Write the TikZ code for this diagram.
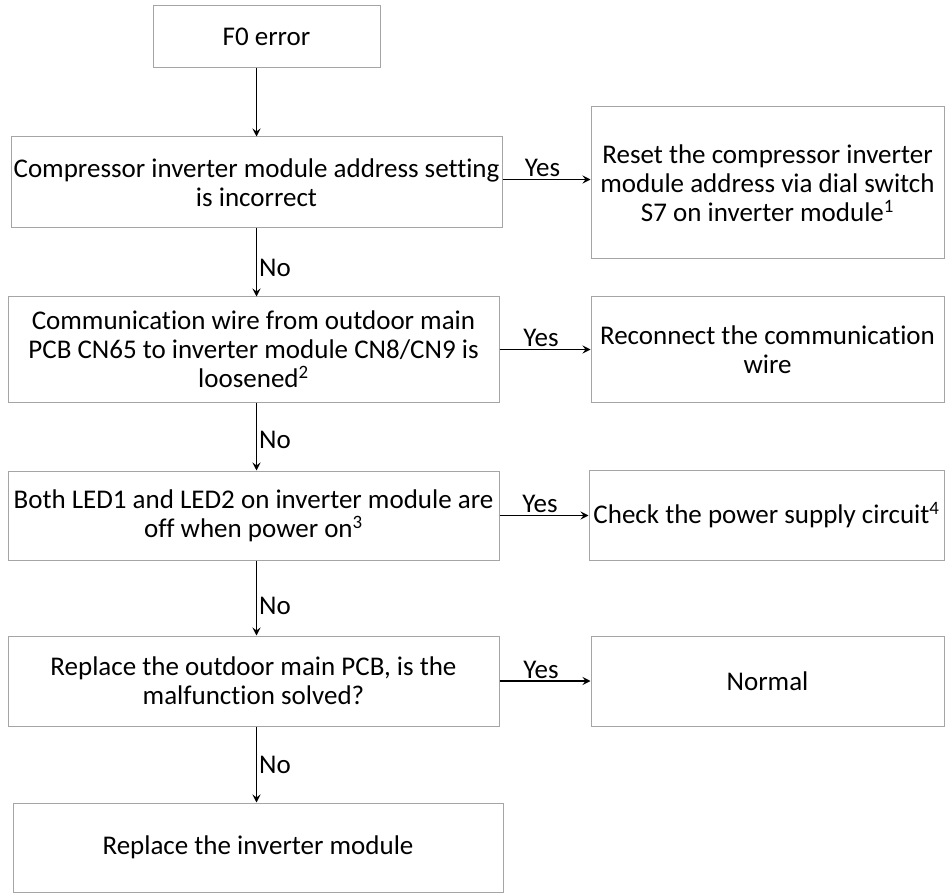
\documentclass[tikz,border=0pt]{standalone}
\usepackage{fontspec}
\setmainfont{Carlito}[Ligatures=NoCommon]
\usetikzlibrary{arrows.meta}
\definecolor{boxgray}{RGB}{165,165,165}
\tikzset{
  stepbox/.style={draw=boxgray, line width=1pt, align=center, inner sep=0pt,
    font=\fontsize{27}{29}\selectfont},
  lab/.style={font=\fontsize{27}{29}\selectfont, inner sep=2pt},
  flow/.style={->, line width=1.2pt},
  >={Stealth[length=8pt,width=8pt,inset=3pt]}
}
\begin{document}
\begin{tikzpicture}[x=1pt,y=-1pt]
\useasboundingbox (0,0) rectangle (945,893);

\node[stepbox, minimum width=227pt, minimum height=62pt] (f0) at (266.5,37) {F0 error};
\node[stepbox, minimum width=491pt, minimum height=91pt] (q1) at (256.5,182.5) {Compressor inverter module address setting\\is incorrect};
\node[stepbox, minimum width=353pt, minimum height=152pt] (a1) at (767.5,183) {Reset the compressor inverter\\module address via dial switch\\S7 on inverter module\textsuperscript{1}};
\node[stepbox, minimum width=491pt, minimum height=105pt] (q2) at (253.5,349.5) {Communication wire from outdoor main\\PCB CN65 to inverter module CN8/CN9 is\\loosened\textsuperscript{2}};
\node[stepbox, minimum width=353pt, minimum height=105pt] (a2) at (767.5,349.5) {Reconnect the communication\\wire};
\node[stepbox, minimum width=491pt, minimum height=89pt] (q3) at (253.5,515.5) {Both LED1 and LED2 on inverter module are\\off when power on\textsuperscript{3}};
\node[stepbox, minimum width=355pt, minimum height=90pt] (a3) at (766.5,515) {Check the power supply circuit\textsuperscript{4}};
\node[stepbox, minimum width=491pt, minimum height=90pt] (q4) at (253.5,681) {Replace the outdoor main PCB, is the\\malfunction solved?};
\node[stepbox, minimum width=353pt, minimum height=90pt] (a4) at (767.5,681) {Normal};
\node[stepbox, minimum width=490pt, minimum height=89pt] (fix) at (258,847.5) {Replace the inverter module};

\draw[flow] (f0.south -| q1.north) -- (q1.north);
\draw[flow] (q1.south) -- (q1.south |- q2.north) node[lab, pos=0.58, right] {No};
\draw[flow] (q1.south |- q2.south) -- (q1.south |- q3.north) node[lab, pos=0.55, right] {No};
\draw[flow] (q1.south |- q3.south) -- (q1.south |- q4.north) node[lab, pos=0.6, right] {No};
\draw[flow] (q1.south |- q4.south) -- (q1.south |- fix.north) node[lab, pos=0.5, right] {No};

\draw[flow] ([yshift=3pt]q1.east) -- ([yshift=3pt]q1.east -| a1.west) node[lab, midway, above, xshift=-4pt] {Yes};
\draw[flow] (q2.east) -- (q2.east -| a2.west) node[lab, midway, above, xshift=-4pt] {Yes};
\draw[flow] (q3.east) -- (q3.east -| a3.west) node[lab, midway, above, xshift=-4pt] {Yes};
\draw[flow] (q4.east) -- (q4.east -| a4.west) node[lab, midway, above, xshift=-4pt] {Yes};
\end{tikzpicture}
\end{document}
